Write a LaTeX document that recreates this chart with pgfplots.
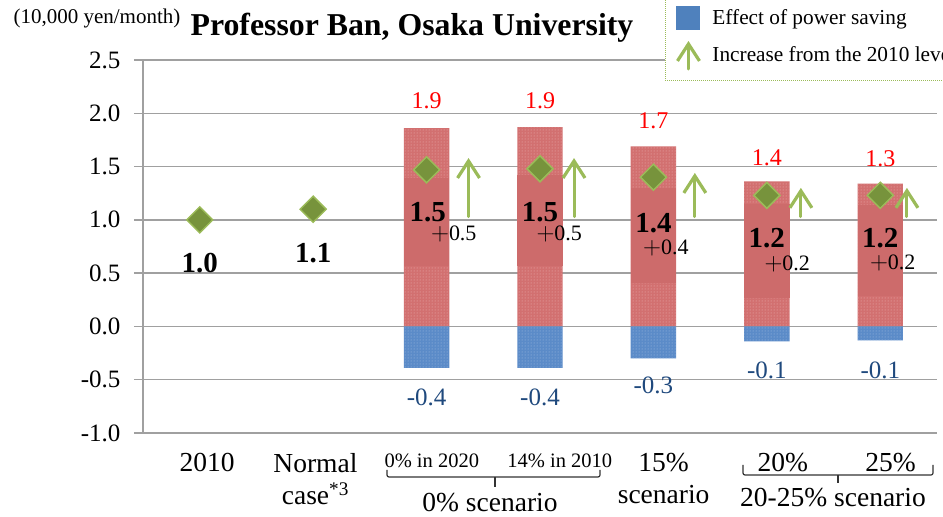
\documentclass[border=0pt]{standalone}
\usepackage{fontspec}
\setmainfont{Liberation Serif}
\usepackage{pgfplots}
\pgfplotsset{compat=1.18}
\usetikzlibrary{arrows.meta,patterns}
\definecolor{redbar}{HTML}{D27070}
\definecolor{redbox}{HTML}{CD6B6B}
\definecolor{reddot}{HTML}{EDB8B8}
\definecolor{bluebar}{HTML}{5B8BC8}
\definecolor{bluedot}{HTML}{A8C2E4}
\definecolor{legblue}{HTML}{4F81BD}
\definecolor{dgreen}{HTML}{77933C}
\definecolor{lgreen}{HTML}{9BBB59}
\definecolor{gridgray}{HTML}{A0A0A0}
\definecolor{lblblue}{HTML}{1F497D}
\tikzset{uparrow/.style={lgreen, line width=3pt, line cap=round, -{Straight Barb[length=17pt,width=22pt,line width=3.2pt]}}}
\newcommand{\bigplus}{{\fontsize{29}{29}\selectfont\(+\)}}
\begin{document}
\begin{tikzpicture}
\useasboundingbox (0,0) rectangle (943pt,517pt);
\clip (0,0) rectangle (943pt,517pt);
\begin{axis}[
  at={(143pt,84pt)}, anchor=south west,
  scale only axis, width=794pt, height=373pt,
  xmin=-0.5, xmax=6.5, ymin=-1, ymax=2.5,
  clip=false,
  axis lines*=left,
  axis line style={gridgray, line width=1.5pt},
  ytick distance=0.5,
  ymajorgrids,
  grid style={gridgray, line width=1.5pt},
  tick align=outside,
  major tick length=9pt,
  ytick style={gridgray, line width=1.5pt},
  xtick style={draw=none},
  /pgf/number format/assume math mode=true,
  yticklabel style={font=\fontsize{25}{25}\selectfont, /pgf/number format/fixed, /pgf/number format/fixed zerofill, /pgf/number format/precision=1, xshift=-10pt},
  xtick={0.066,1.02,2.046,3.175,4.09,5.14,6.09},
  xticklabels={2010, Normal\\case\textsuperscript{*3}, {\fontsize{20.5}{24}\selectfont 0\% in 2020}, {\fontsize{20.5}{24}\selectfont 14\% in 2010}, 15\%\\scenario, 20\%, 25\%},
  xticklabel style={font=\fontsize{27.5}{32}\selectfont, align=center, yshift=-8pt},
  legend style={at={(axis description cs:0.6574,0.9437)}, anchor=south west, draw=lgreen, densely dotted, line width=1pt, fill=white, font=\fontsize{21.3}{24}\selectfont, row sep=8.5pt, inner xsep=3pt, inner ysep=10pt, nodes={inner sep=2pt}},
  legend cell align=left,
]
\addlegendimage{legend image code/.code={\path (0pt,0pt) (41pt,0pt); \fill[legblue] (8pt,-11.5pt) rectangle (31pt,11.5pt);}}
\addlegendentry{Effect of power saving}
\addlegendimage{legend image code/.code={\path (0pt,0pt) (41pt,0pt); \draw[solid, uparrow] (19.5pt,-14pt) -- (19.5pt,14pt);}}
\addlegendentry{Increase from the 2010 level}

% positive (red) bars
\addplot[forget plot, ybar, bar width=0.4, bar shift=0pt, fill=redbar, draw=none, postaction={pattern=dots, pattern color=reddot}] coordinates {(2,1.86) (3,1.87) (4,1.69) (5,1.36) (6,1.34)};
% power saving (blue) bars
\addplot[forget plot, ybar, bar width=0.4, bar shift=0pt, fill=bluebar, draw=none, postaction={pattern=dots, pattern color=bluedot}] coordinates {(2,-0.39) (3,-0.39) (4,-0.30) (5,-0.14) (6,-0.13)};
% solid label boxes
\addplot[forget plot, fill=redbox, draw=none] coordinates {(1.8,0.57) (2.2,0.57) (2.2,1.39) (1.8,1.39)} -- cycle;
\addplot[forget plot, fill=redbox, draw=none] coordinates {(2.8,0.57) (3.2,0.57) (3.2,1.42) (2.8,1.42)} -- cycle;
\addplot[forget plot, fill=redbox, draw=none] coordinates {(3.8,0.41) (4.2,0.41) (4.2,1.30) (3.8,1.30)} -- cycle;
\addplot[forget plot, fill=redbox, draw=none] coordinates {(4.8,0.27) (5.2,0.27) (5.2,1.15) (4.8,1.15)} -- cycle;
\addplot[forget plot, fill=redbox, draw=none] coordinates {(5.8,0.29) (6.2,0.29) (6.2,1.14) (5.8,1.14)} -- cycle;
% diamonds
\addplot[forget plot, only marks, mark=square*, mark size=9.2pt, mark options={rotate=45, fill=dgreen, draw=lgreen, line width=1.5pt}] coordinates {(0,1.0) (1,1.1) (2,1.47) (3,1.48) (4,1.40) (5,1.23) (6,1.23)};
% increase arrows
\addplot[forget plot, uparrow] coordinates {(2.37,1.03) (2.37,1.58)};
\addplot[forget plot, uparrow] coordinates {(3.30,1.03) (3.30,1.58)};
\addplot[forget plot, uparrow] coordinates {(4.365,1.03) (4.365,1.44)};
\addplot[forget plot, uparrow] coordinates {(5.30,1.03) (5.30,1.30)};
\addplot[forget plot, uparrow] coordinates {(6.235,1.03) (6.235,1.30)};

% red totals
\begin{scope}[every node/.style={text=red, font=\fontsize{24}{24}\selectfont}]
\node at (axis cs:2,2.12) {1.9};
\node at (axis cs:3,2.12) {1.9};
\node at (axis cs:4,1.93) {1.7};
\node at (axis cs:5,1.58) {1.4};
\node at (axis cs:6,1.57) {1.3};
\end{scope}
% bold values
\begin{scope}[every node/.style={font=\fontsize{29}{29}\selectfont\bfseries}]
\node at (axis cs:0,0.59) {1.0};
\node at (axis cs:1,0.69) {1.1};
\node at (axis cs:2.01,1.07) {1.5};
\node at (axis cs:3.0,1.07) {1.5};
\node at (axis cs:4.0,0.97) {1.4};
\node at (axis cs:5.0,0.83) {1.2};
\node at (axis cs:6.0,0.83) {1.2};
\end{scope}
% increments
\begin{scope}[every node/.style={font=\fontsize{22}{22}\selectfont}]
\node at (axis cs:2.24,0.87) {\bigplus0.5};
\node at (axis cs:3.17,0.87) {\bigplus0.5};
\node at (axis cs:4.11,0.74) {\bigplus0.4};
\node at (axis cs:5.18,0.59) {\bigplus0.2};
\node at (axis cs:6.11,0.60) {\bigplus0.2};
\end{scope}
% power saving labels
\begin{scope}[every node/.style={text=lblblue, font=\fontsize{25}{25}\selectfont}]
\node at (axis cs:2,-0.67) {-0.4};
\node at (axis cs:3,-0.67) {-0.4};
\node at (axis cs:4,-0.55) {-0.3};
\node at (axis cs:5,-0.41) {-0.1};
\node at (axis cs:6,-0.41) {-0.1};
\end{scope}
\end{axis}
% title and unit
\node[font=\fontsize{31.8}{32}\selectfont\bfseries] at (412pt,489pt) {Professor Ban, Osaka University};
\node[font=\fontsize{21}{21}\selectfont] at (97pt,499pt) {(10,000 yen/month)};
% group braces
\draw[line width=1.2pt, rounded corners=2pt, black!80] (387pt,47pt) -- (387pt,40pt) -- (600pt,40pt) -- (600pt,47pt);
\draw[line width=1.2pt, black!80] (495pt,40pt) -- (495pt,30pt);
\draw[line width=1.2pt, rounded corners=2pt, black!80] (743pt,52pt) -- (743pt,42pt) -- (933pt,42pt) -- (933pt,52pt);
\draw[line width=1.2pt, black!80] (838pt,42pt) -- (838pt,34pt);
\node[font=\fontsize{27.5}{32}\selectfont] at (490pt,14pt) {0\% scenario};
\node[font=\fontsize{27.5}{32}\selectfont] at (833pt,19pt) {20-25\% scenario};
\end{tikzpicture}
\end{document}
